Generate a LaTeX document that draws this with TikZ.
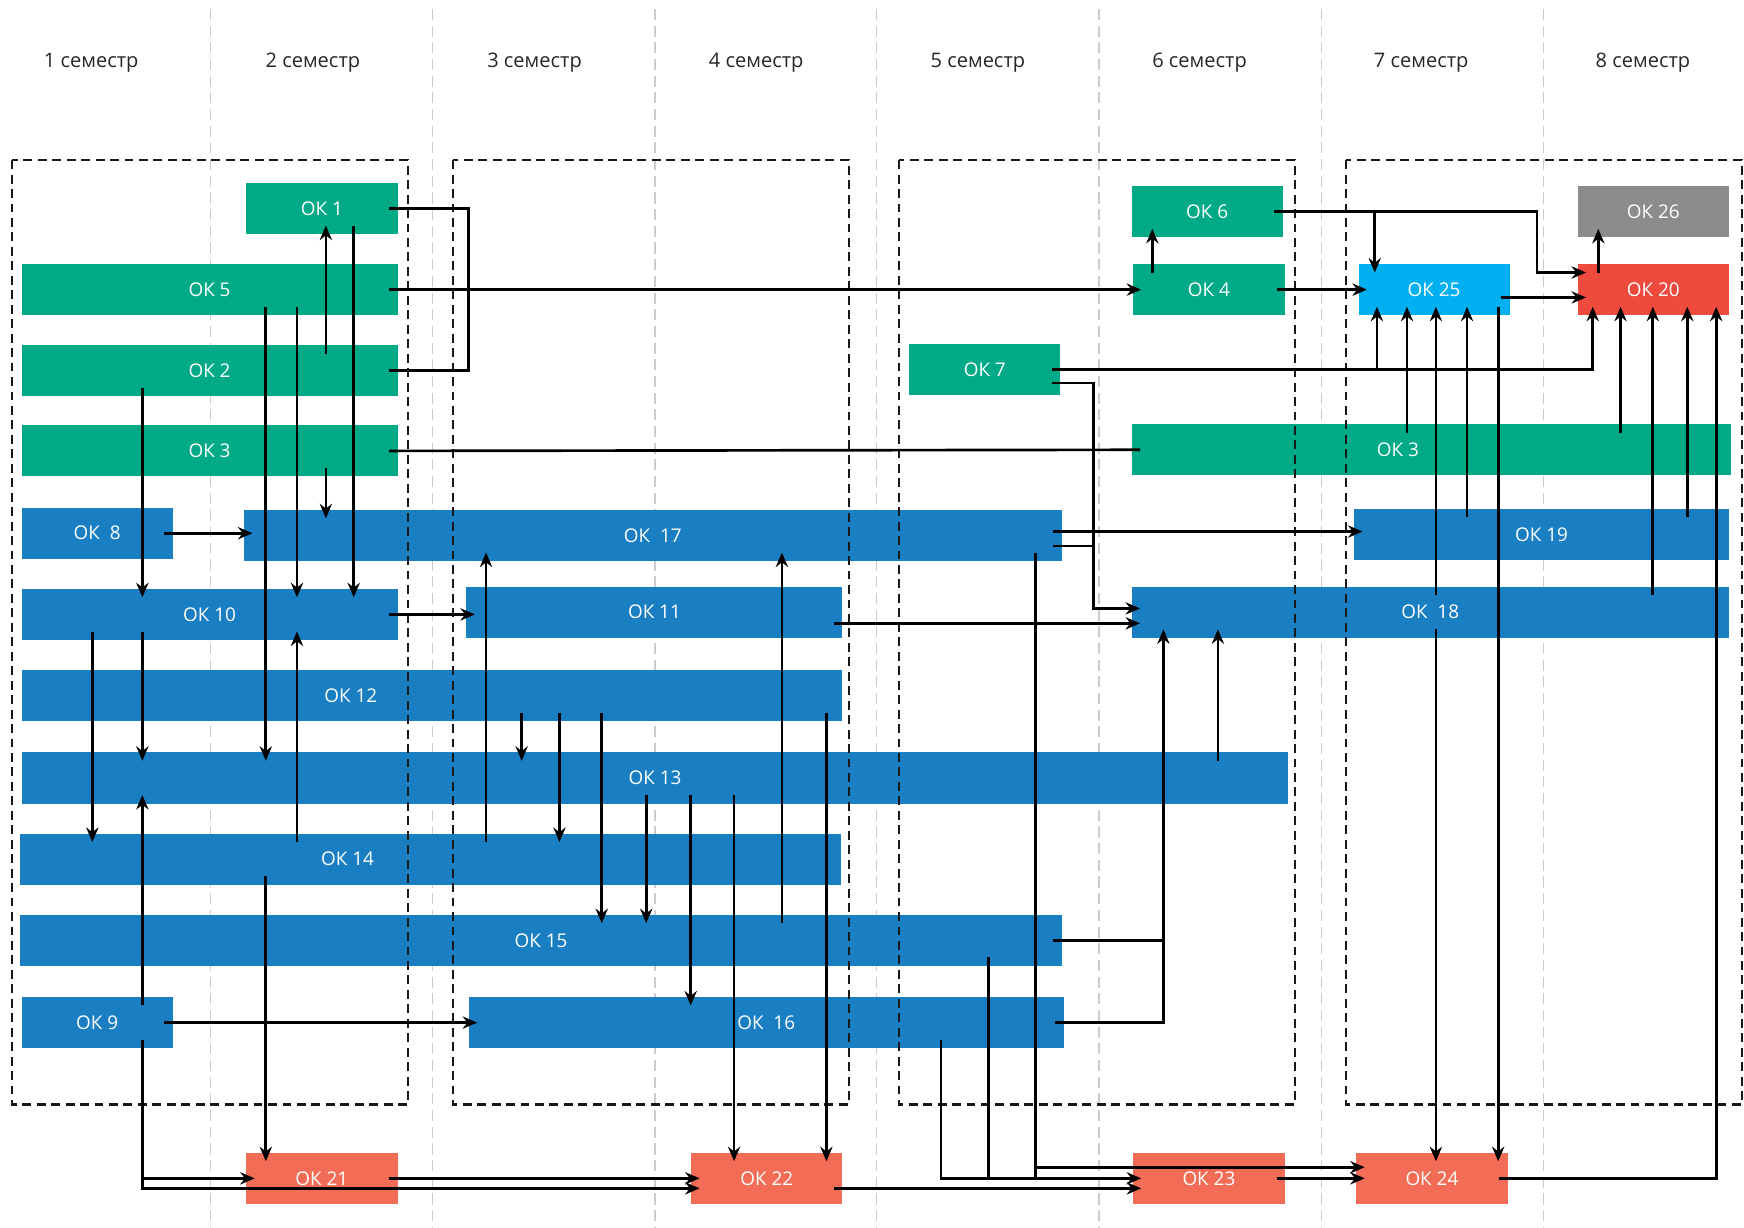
\documentclass[tikz,border=0pt]{standalone}
\usepackage{fontspec}
\setmainfont{Open Sans}
\usetikzlibrary{arrows.meta, positioning}

\definecolor{okgreen}{RGB}{0,170,135}
\definecolor{okblue}{RGB}{26,126,195}
\definecolor{okcyan}{RGB}{0,176,240}
\definecolor{okred}{RGB}{238,75,62}
\definecolor{oksalmon}{RGB}{242,108,86}
\definecolor{okgray}{RGB}{140,140,140}

\tikzset{
    ok/.style={rectangle, inner sep=0pt, minimum height=23pt, anchor=north west,
        text=white, font=\fontsize{8.5}{10}\selectfont},
    oklabel/.style={text=white, inner sep=0pt, font=\fontsize{8.5}{10}\selectfont},
    semlabel/.style={text=black!85, font=\fontsize{9}{11}\selectfont},
    colline/.style={gray!40, line width=0.6pt, dash pattern=on 5pt off 2.5pt},
    pairbox/.style={black!90, line width=1pt, dash pattern=on 4pt off 2.5pt},
    wire/.style={line width=1.2pt, shorten <=-4pt, shorten >=-4pt},
    arr/.style={wire, -{Stealth[length=6.5pt, width=5.5pt]}},
    fromwire/.style={shorten <=0pt},
    towire/.style={shorten >=0pt}
}

\begin{document}
\begin{tikzpicture}[x=0.5pt, y=-0.5pt]

    \useasboundingbox (0,0) rectangle (1568,1104);

    % --- семестры ---
    \foreach \x in {189,389,589,788,988,1188,1388}
        \draw[colline] (\x,8) -- (\x,1104);
    \foreach \i in {1,...,8}
        \node[semlabel] (sem\i) at ({82+199.3*(\i-1)},56) {\i\ семестр};

    % --- 1-2 семестр ---
    \node[ok, fill=okgreen, minimum width=68pt] (ok1) at (221,164) {ОК 1};
    \node[ok, fill=okgreen, minimum width=169pt] (ok5) at (19,237) {ОК 5};
    \node[ok, fill=okgreen, minimum width=169pt] (ok2) at (19,310) {ОК 2};
    \node[ok, fill=okgreen, minimum width=169pt] (ok3) at (19,382) {ОК 3};
    \node[ok, fill=okblue, minimum width=68pt] (ok8) at (19,456) {ОК~~8};
    \node[ok, fill=okblue, minimum width=169pt] (ok10) at (19,529) {ОК 10};
    \node[ok, fill=okblue, minimum width=68pt] (ok9) at (19,896) {ОК 9};

    % --- длинные ---
    \node[ok, fill=okblue, minimum width=367.5pt] (ok17) at (219,458) {ОК~~17};
    \node[ok, fill=okblue, minimum width=169pt] (ok11) at (419,527) {ОК 11};
    \node[ok, fill=okblue, minimum width=369pt,
        label={[oklabel, xshift=-36.5pt]center:ОК 12}] (ok12) at (19,602) {};
    \node[ok, fill=okblue, minimum width=569.5pt] (ok13) at (19,676) {ОК 13};
    \node[ok, fill=okblue, minimum width=369pt,
        label={[oklabel, xshift=-37.5pt]center:ОК 14}] (ok14) at (18,749) {};
    \node[ok, fill=okblue, minimum width=468pt] (ok15) at (18,822) {ОК 15};
    \node[ok, fill=okblue, minimum width=267.5pt] (ok16) at (421,896) {ОК~~16};

    % --- 5-6 семестр ---
    \node[ok, fill=okgreen, minimum width=68pt] (ok7) at (817,309) {ОК 7};
    \node[ok, fill=okgreen, minimum width=68pt] (ok6) at (1017,167) {ОК 6};
    \node[ok, fill=okgreen, minimum width=68.5pt] (ok4) at (1018,237) {ОК 4};
    \node[ok, fill=okgreen, minimum width=269.5pt,
        label={[oklabel, xshift=-15pt]center:ОК 3}] (ok3r) at (1017,381) {};
    \node[ok, fill=okblue, minimum width=268.5pt] (ok18) at (1017,527) {ОК~~18};

    % --- 7-8 семестр ---
    \node[ok, fill=okblue, minimum width=168.5pt] (ok19) at (1217,457) {ОК 19};
    \node[ok, fill=okcyan, minimum width=68pt] (ok25) at (1221,237) {ОК 25};
    \node[ok, fill=okgray, minimum width=68pt] (ok26) at (1418,167) {ОК 26};
    \node[ok, fill=okred, minimum width=68pt] (ok20) at (1418,237) {ОК 20};

    % --- итоговые ---
    \node[ok, fill=oksalmon, minimum width=68pt] (ok21) at (221,1036) {ОК 21};
    \node[ok, fill=oksalmon, minimum width=68pt] (ok22) at (621,1036) {ОК 22};
    \node[ok, fill=oksalmon, minimum width=68.5pt] (ok23) at (1018,1036) {ОК 23};
    \node[ok, fill=oksalmon, minimum width=68pt] (ok24) at (1219,1036) {ОК 24};

    % рамки по годам
    \foreach \x in {11,407,808,1210}
        \draw[pairbox] (\x,144) rectangle ++(356,849);

    % --- связи: 1 год ---
    \draw[wire] (ok1.east) -| (421,0 |- ok2.east) -- (ok2.east);
    \draw[arr] (ok5.east) -- (ok4.west);
    \draw[wire] (ok3.east) -- (ok3r.west);
    \draw[arr] (ok2.north -| 293,0) -- (ok1.south -| 293,0);
    \draw[arr] (ok1.south -| 318,0) -- (ok10.north -| 318,0);
    \draw[arr] (ok5.south -| 239,0) -- (ok13.north -| 239,0);
    \draw[arr] (ok5.south -| 267,0) -- (ok10.north -| 267,0);
    \draw[arr] (ok2.south -| 128,0) -- (ok10.north -| 128,0);
    \draw[arr] (ok3.south -| 293,0) -- (ok17.north -| 293,0);
    \draw[arr] (ok8.east) -- (ok8.east -| ok17.west);
    \draw[arr] (ok10.east) -- (ok10.east -| ok11.west);
    \draw[arr] (ok10.south -| 83,0) -- (ok14.north -| 83,0);
    \draw[arr] (ok10.south -| 128,0) -- (ok13.north -| 128,0);
    \draw[arr] (ok14.north -| 267,0) -- (ok10.south -| 267,0);
    \draw[arr] (ok9.north -| 128,0) -- (ok13.south -| 128,0);
    \draw[arr] (ok9.east) -- (ok9.east -| ok16.west);
    \draw[arr] (ok9.south -| 128,0) |- (ok21.west);
    \draw[arr] (ok9.south -| 128,0) |- ([yshift=-4.5pt]ok22.west);
    \draw[arr] (ok21.east) -- (ok22.west);
    \draw[arr] (ok14.south -| 239,0) -- (ok21.north -| 239,0);

    % --- связи: 2 год ---
    \draw[arr] (ok14.north -| 437,0) -- (ok17.south -| 437,0);
    \draw[arr] (ok12.south -| 469,0) -- (ok13.north -| 469,0);
    \draw[arr] (ok12.south -| 503,0) -- (ok14.north -| 503,0);
    \draw[arr] (ok12.south -| 541,0) -- (ok15.north -| 541,0);
    \draw[arr] (ok13.south -| 581,0) -- (ok15.north -| 581,0);
    \draw[arr] (ok13.south -| 621,0) -- (ok16.north -| 621,0);
    \draw[arr] (ok13.south -| 660,0) -- (ok22.north -| 660,0);
    \draw[arr] (ok15.north -| 703,0) -- (ok17.south -| 703,0);
    \draw[arr] (ok12.south -| 743,0) -- (ok22.north -| 743,0);
    \draw[arr] ([yshift=-5pt]ok11.east) -- ([yshift=-5pt]ok11.east -| ok18.west);

    % --- связи: 3 год ---
    \coordinate (k7) at (983,547);
    \draw[arr] ([yshift=-6pt]ok7.east) -| (k7) -- (k7 -| ok18.west);
    \draw[wire, towire] ([yshift=-4.75pt]ok17.east) -- ([yshift=-4.75pt]ok17.east -| k7);
    \draw[arr] ([yshift=1.75pt]ok17.east) -- ([yshift=1.75pt]ok17.east -| ok19.west);
    \draw[arr] (ok15.east) -| (ok18.south -| 1046,0);
    \draw[wire, towire] (ok16.east) -| (ok15.east -| 1046,0);
    \draw[arr] (ok13.north -| 1095,0) -- (ok18.south -| 1095,0);
    \draw[arr] (ok16.south -| 846,0) |- (ok23.west);
    \draw[wire, towire] (ok15.south -| 889,0) -- (ok23.west -| 889,0);
    \draw[wire, towire] (ok17.south -| 931,0) -- (ok23.west -| 931,0);
    \draw[arr, fromwire] ([yshift=5pt]ok24.west -| 931,0) -- ([yshift=5pt]ok24.west);
    \draw[arr] ([yshift=-4.5pt]ok22.east) -- ([yshift=-4.5pt]ok23.west);

    % --- связи: 4 год ---
    \draw[arr] (ok4.north -| 1036,0) -- (ok6.south -| 1036,0);
    \draw[arr] (ok4.east) -- (ok4.east -| ok25.west);
    \coordinate (k6) at (1382,245);
    \draw[arr] (ok6.east) -| (k6) -- (k6 -| ok20.west);
    \draw[arr, fromwire] (ok6.east -| 1236,0) -- (ok25.north -| 1236,0);
    \draw[arr] (ok7.east) -| (ok20.south -| 1432,0);
    \draw[arr, fromwire] (ok7.east -| 1238,0) -- (ok25.south -| 1238,0);
    \draw[arr] ([yshift=-3.5pt]ok25.east) -- ([yshift=-3.5pt]ok25.east -| ok20.west);
    \draw[arr] (ok20.north -| 1437,0) -- (ok26.south -| 1437,0);
    \foreach \x/\src in {1265/ok3r, 1291/ok18, 1319/ok19}
        \draw[arr] (\src.north -| \x,0) -- (ok25.south -| \x,0);
    \foreach \x/\src in {1457/ok3r, 1486/ok18, 1517/ok19}
        \draw[arr] (\src.north -| \x,0) -- (ok20.south -| \x,0);
    \draw[arr] (ok18.south -| 1291,0) -- (ok24.north -| 1291,0);
    \draw[arr] (ok25.south -| 1347,0) -- (ok24.north -| 1347,0);
    \draw[arr] (ok23.east) -- (ok24.west);
    \draw[arr] (ok24.east) -| (ok20.south -| 1543,0);

\end{tikzpicture}
\end{document}
